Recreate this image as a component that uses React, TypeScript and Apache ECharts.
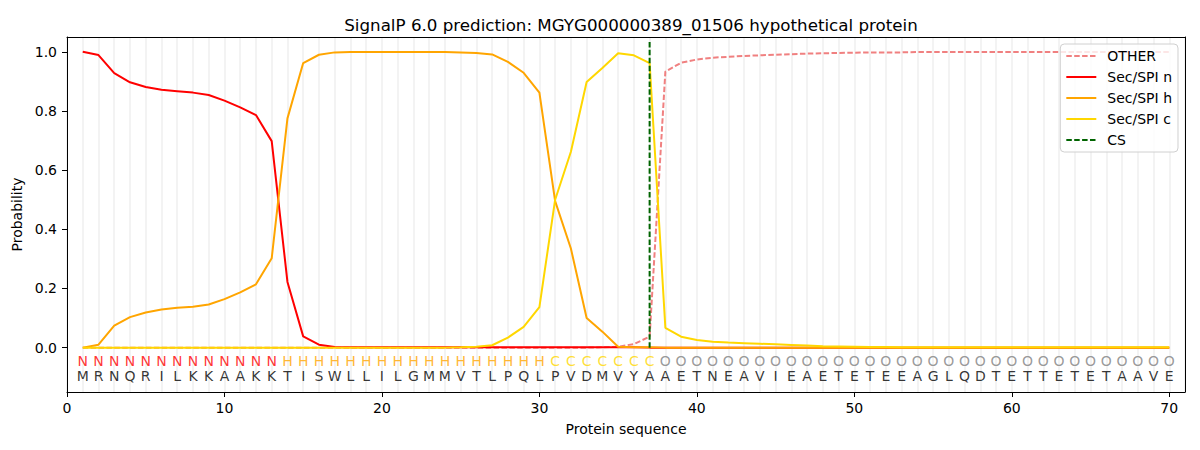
import React, { useEffect, useRef } from "react";
import * as echarts from "echarts";

const TITLE = "SignalP 6.0 prediction: MGYG000000389_01506 hypothetical protein";

const sequence = "MRNQRILKKAAKKTISWLLILGMMVTLPQLPVDMVYAAETNEAVIEAETETEEAGLQDTETTETETAAVE".split("");
const regionLabels = (
  "NNNNNNNNNNNNN" + "HHHHHHHHHHHHHHHHH" + "CCCCCCC" + "OOOOOOOOOOOOOOOOOOOOOOOOOOOOOOOOO"
).split("");
const positions = sequence.map((_, i) => i + 1);

const otherProb = [
  0, 0, 0, 0, 0, 0, 0, 0, 0, 0,
  0, 0, 0, 0, 0, 0, 0, 0, 0, 0,
  0, 0, 0, 0, 0, 0, 0, 0, 0, 0,
  0, 0, 0, 0.001, 0.003, 0.012, 0.037, 0.933, 0.963, 0.974,
  0.98, 0.983, 0.986, 0.988, 0.99, 0.992, 0.994, 0.995, 0.996, 0.997,
  0.998, 0.998, 0.998, 0.999, 0.999, 0.999, 0.999, 0.999, 0.999, 0.999,
  0.999, 0.999, 0.999, 0.999, 0.999, 0.999, 0.999, 0.999, 0.999, 0.999,
];
const nProb = [
  1.0, 0.989, 0.928, 0.897, 0.881, 0.872, 0.867, 0.862, 0.854, 0.835,
  0.812, 0.786, 0.698, 0.222, 0.038, 0.01, 0.002, 0.001, 0.001, 0.001,
  0.001, 0.001, 0.001, 0.001, 0.001, 0.001, 0.001, 0.001, 0.001, 0.001,
  0.001, 0.001, 0.001, 0.001, 0.001, 0.001, 0, 0, 0, 0,
  0, 0, 0, 0, 0, 0, 0, 0, 0, 0,
  0, 0, 0, 0, 0, 0, 0, 0, 0, 0,
  0, 0, 0, 0, 0, 0, 0, 0, 0, 0,
];
const hProb = [
  0, 0.01, 0.074, 0.103, 0.119, 0.129, 0.135, 0.138, 0.146, 0.164,
  0.187, 0.214, 0.302, 0.775, 0.962, 0.99, 0.998, 0.999, 0.999, 0.999,
  0.999, 0.999, 0.999, 0.999, 0.998, 0.996, 0.991, 0.966, 0.929, 0.862,
  0.495, 0.335, 0.1, 0.054, 0.003, 0.001, 0.001, 0, 0, 0,
  0, 0, 0, 0, 0, 0, 0, 0, 0, 0,
  0, 0, 0, 0, 0, 0, 0, 0, 0, 0,
  0, 0, 0, 0, 0, 0, 0, 0, 0, 0,
];
const cProb = [
  0, 0, 0, 0, 0, 0, 0, 0, 0, 0,
  0, 0, 0, 0, 0, 0, 0, 0, 0, 0,
  0, 0, 0, 0, 0.001, 0.003, 0.008, 0.034, 0.07, 0.137,
  0.5, 0.662, 0.898, 0.945, 0.995, 0.988, 0.962, 0.067, 0.037, 0.026,
  0.02, 0.017, 0.015, 0.013, 0.011, 0.009, 0.007, 0.005, 0.004, 0.003,
  0.002, 0.002, 0.001, 0.001, 0.001, 0.001, 0.001, 0.001, 0.001, 0.001,
  0.001, 0.001, 0.001, 0.001, 0.001, 0.001, 0.001, 0.001, 0.001, 0.001,
];
const csPosition = 37;
const csTop = 1.035;

const xTicks = [0, 10, 20, 30, 40, 50, 60, 70];
const yTicks = [0, 0.2, 0.4, 0.6, 0.8, 1.0];

const labelColors: Record<string, string> = {
  N: "#ff0000",
  H: "#ffa500",
  C: "#ffd700",
  O: "#808080",
};

const FONT = "DejaVu Sans";
const dash = [5.5, 2.4];

export default function App() {
  const ref = useRef<HTMLDivElement>(null);
  useEffect(() => {
    if (!ref.current) return;
    const chart = echarts.init(ref.current, undefined, { renderer: "svg" });
    const pairs = (arr: number[]) => positions.map((p, i) => [p, arr[i]]);
    const lineSeries = (name: string, arr: number[], color: string, dashed = false) => ({
      name,
      type: "line",
      data: pairs(arr),
      symbol: "none",
      lineStyle: { color, width: 2, type: dashed ? dash : "solid" },
      itemStyle: { color },
      z: 3,
    });
    const axisText = { fontFamily: FONT, fontSize: 14, color: "#000" };
    chart.setOption({
      animation: false,
      textStyle: { fontFamily: FONT },
      title: {
        text: TITLE,
        left: 626,
        textAlign: "center",
        top: 11,
        textStyle: { fontFamily: FONT, fontSize: 16.7, fontWeight: "normal", color: "#000" },
      },
      grid: {
        left: 67,
        right: 15,
        top: 37,
        bottom: 58,
      },
      legend: {
        data: ["OTHER", "Sec/SPI n", "Sec/SPI h", "Sec/SPI c", "CS"],
        orient: "vertical",
        right: 22,
        top: 44,
        itemWidth: 30,
        itemHeight: 14,
        itemGap: 7,
        padding: [5, 6, 5, 5],
        borderColor: "#d0d0d0",
        borderWidth: 1,
        borderRadius: 4,
        backgroundColor: "rgba(255,255,255,0.8)",
        itemStyle: { opacity: 0 },
        textStyle: { fontFamily: FONT, fontSize: 14, color: "#000", padding: [0, 0, 0, 6] },
      },
      xAxis: [
        {
          type: "value",
          min: 0,
          max: 71,
          position: "bottom",
          name: "Protein sequence",
          nameLocation: "middle",
          nameGap: 30,
          nameTextStyle: axisText,
          axisLine: { show: true, onZero: false, lineStyle: { color: "#000", width: 1 } },
          axisTick: { show: true, length: 5, lineStyle: { color: "#000" }, customValues: xTicks },
          axisLabel: { customValues: xTicks, margin: 9, ...axisText },
          splitLine: { show: false },
        },
        {
          type: "value",
          min: 0,
          max: 71,
          interval: 1,
          position: "top",
          axisLine: { show: true, onZero: false, lineStyle: { color: "#000", width: 1 } },
          axisTick: { show: false },
          axisLabel: { show: false },
          splitLine: { show: true, lineStyle: { color: "#f3f3f3", width: 2 } },
        },
      ],
      yAxis: [
        {
          type: "value",
          min: -0.15,
          max: 1.05,
          position: "left",
          name: "Probability",
          nameLocation: "middle",
          nameGap: 39,
          nameTextStyle: axisText,
          axisLine: { show: true, onZero: false, lineStyle: { color: "#000", width: 1 } },
          axisTick: { show: true, length: 5, lineStyle: { color: "#000" }, customValues: yTicks },
          axisLabel: {
            customValues: yTicks,
            margin: 10,
            ...axisText,
            formatter: (v: number) => v.toFixed(1),
          },
          splitLine: { show: false },
        },
        {
          type: "value",
          min: -0.15,
          max: 1.05,
          position: "right",
          axisLine: { show: true, onZero: false, lineStyle: { color: "#000", width: 1 } },
          axisTick: { show: false },
          axisLabel: { show: false },
          splitLine: { show: false },
        },
      ],
      series: [
        lineSeries("OTHER", otherProb, "#f08080", true),
        lineSeries("Sec/SPI n", nProb, "#ff0000"),
        lineSeries("Sec/SPI h", hProb, "#ffa500"),
        lineSeries("Sec/SPI c", cProb, "#ffd700"),
        {
          name: "CS",
          type: "line",
          data: [
            [csPosition, 0],
            [csPosition, csTop],
          ],
          symbol: "none",
          lineStyle: { color: "#006400", width: 2, type: dash },
          itemStyle: { color: "#006400" },
          z: 4,
        },
        {
          name: "regions",
          type: "scatter",
          symbolSize: 0,
          data: positions.map((p, i) => ({
            value: [p, -0.045],
            label: { color: labelColors[regionLabels[i]] },
          })),
          label: {
            show: true,
            position: "inside",
            fontFamily: FONT,
            fontSize: 14,
            formatter: (pr: any) => regionLabels[pr.dataIndex],
          },
          z: 5,
        },
        {
          name: "residues",
          type: "scatter",
          symbolSize: 0,
          data: positions.map((p) => [p, -0.096]),
          label: {
            show: true,
            position: "inside",
            fontFamily: FONT,
            fontSize: 14,
            color: "#000",
            formatter: (pr: any) => sequence[pr.dataIndex],
          },
          z: 5,
        },
      ],
    });
    return () => chart.dispose();
  }, []);
  return <div ref={ref} style={{ width: 1200, height: 450, position: "absolute", left: 0, top: 0 }} />;
}
